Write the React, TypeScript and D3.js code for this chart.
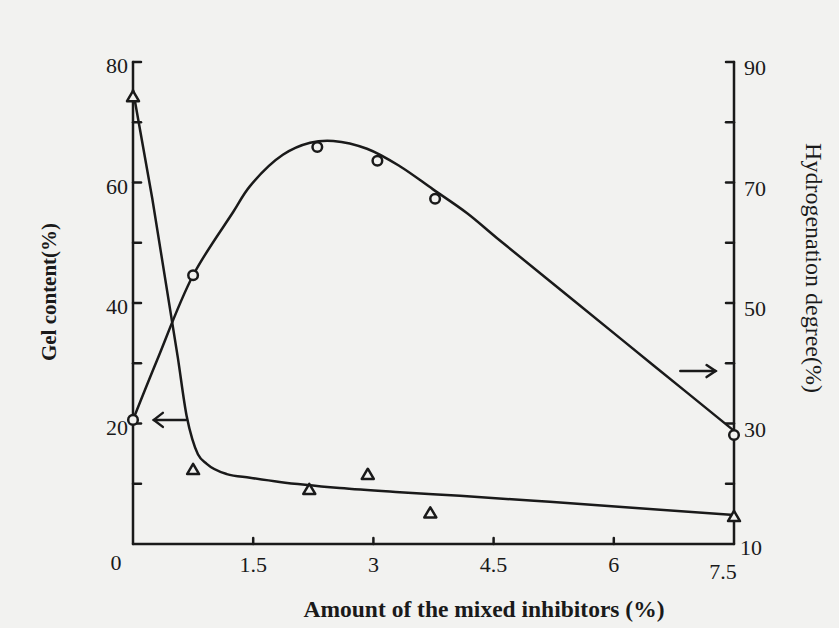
import React from "react";
import * as d3 from "d3";

// Measured points
const gelX = [0, 0.75, 2.2, 2.93, 3.71, 7.5];
const gelY = [74.2, 12.3, 9.0, 11.5, 5.1, 4.5];
const hydX = [0, 0.75, 2.3, 3.05, 3.77, 7.5];
const hydY = [30.6, 54.6, 75.9, 73.6, 67.3, 28.1];

// Hand-drawn fitted curves
const gelFitX = [0.0, 0.24, 0.56, 0.67, 0.74, 0.81, 0.92, 1.17, 1.46, 1.83, 2.58, 3.33, 4.08, 5.2, 7.5];
const gelFitY = [75.3, 57.4, 30.9, 21.2, 17.4, 14.9, 13.3, 11.6, 11.0, 10.3, 9.3, 8.6, 8.0, 7.0, 4.8];
const hydFitX = [0, 0.3, 0.75, 1.25, 1.46, 1.87, 2.21, 2.5, 2.92, 3.33, 3.74, 4.17, 4.54, 5.5, 6.5, 7.49];
const hydFitY = [30.6, 40.5, 54.6, 65.1, 69.4, 74.6, 76.6, 76.9, 75.6, 72.7, 68.9, 64.9, 60.8, 50.4, 39.6, 28.9];

const xTicks = [1.5, 3, 4.5, 6];
const xTickLabels = ["1.5", "3", "4.5", "6"];
const leftMajor = [20, 40, 60, 80];
const leftMinor = [10, 30, 50, 70];
const rightMajor = [30, 50, 70, 90];
const rightMinor = [20, 40, 60, 80];

const xTitle = "Amount of the mixed inhibitors (%)";
const leftTitle = "Gel content(%)";
const rightTitle = "Hydrogenation degree(%)";

export default function App() {
  const W = 839, H = 628;
  const x = d3.scaleLinear().domain([0, 7.5]).range([133, 734]);
  const yL = d3.scaleLinear().domain([0, 80]).range([544, 62]);
  const yR = d3.scaleLinear().domain([10, 90]).range([544, 62]);
  const ink = "#1a1a1a";
  const bg = "#f2f2f0";
  const font = "'Liberation Serif', 'Times New Roman', serif";

  const gelLine = d3.line<number>().x((_, i) => x(gelFitX[i])).y((d) => yL(d)).curve(d3.curveMonotoneX);
  const hydLine = d3.line<number>().x((_, i) => x(hydFitX[i])).y((d) => yR(d)).curve(d3.curveCatmullRom.alpha(0.5));

  const x0 = x(0), x1 = x(7.5), yb = yL(0);

  const tri = (cx: number, cy: number) => {
    const s = 6;
    return `M${cx},${cy - s} L${cx + s},${cy + s * 0.7} L${cx - s},${cy + s * 0.7} Z`;
  };

  const la = { x1: x(0.66), x2: x(0.26), y: yL(20.6) };
  const ra = { x1: x(6.83), x2: x(7.27), y: yR(38.7) };

  return (
    <svg width={W} height={H} style={{ position: "absolute", left: 0, top: 0, display: "block" }}>
      <rect x={0} y={0} width={W} height={H} fill={bg} />
      <g stroke={ink} strokeWidth={2.5} fill="none" strokeLinecap="round">
        <line x1={x0} y1={yL(80)} x2={x0} y2={yb} />
        <line x1={x0} y1={yb} x2={x1} y2={yb} />
        <line x1={x1} y1={yR(90)} x2={x1} y2={yb} />
        {[...leftMajor, ...leftMinor].map((v) => (
          <line key={"l" + v} x1={x0} x2={x0 + 8} y1={yL(v)} y2={yL(v)} />
        ))}
        {[...rightMajor, ...rightMinor].map((v) => (
          <line key={"r" + v} x1={x1} x2={x1 - 8} y1={yR(v)} y2={yR(v)} />
        ))}
        {xTicks.map((v) => (
          <line key={"x" + v} x1={x(v)} x2={x(v)} y1={yb} y2={yb - 6} />
        ))}
        <path d={gelLine(gelFitY) || ""} />
        <path d={hydLine(hydFitY) || ""} />
        <line x1={la.x1} x2={la.x2} y1={la.y} y2={la.y} />
        <path d={`M${la.x2 + 9},${la.y - 7} L${la.x2},${la.y} L${la.x2 + 9},${la.y + 7}`} />
        <line x1={ra.x1} x2={ra.x2} y1={ra.y} y2={ra.y} />
        <path d={`M${ra.x2 - 9},${ra.y - 6} L${ra.x2},${ra.y} L${ra.x2 - 9},${ra.y + 6}`} />
      </g>
      <g stroke={ink} strokeWidth={2.5} fill={bg}>
        {hydX.map((v, i) => (
          <circle key={"c" + i} cx={x(v)} cy={yR(hydY[i])} r={4.8} />
        ))}
        {gelX.map((v, i) => (
          <path key={"t" + i} d={tri(x(v), yL(gelY[i]))} strokeLinejoin="round" />
        ))}
      </g>
      <g fill={ink} fontFamily={font} fontSize={22}>
        {leftMajor.map((v) => (
          <text key={"lt" + v} x={x0 - 5} y={yL(v) + 11} textAnchor="end">{v}</text>
        ))}
        <text x={116} y={yb + 26} textAnchor="middle">0</text>
        {rightMajor.map((v) => (
          <text key={"rt" + v} x={x1 + 10} y={yR(v) + 13} textAnchor="start">{v}</text>
        ))}
        <text x={x1 + 6} y={yb + 11} textAnchor="start">10</text>
        {xTicks.map((v, i) => (
          <text key={"xt" + v} x={x(v)} y={yb + 28} textAnchor="middle">{xTickLabels[i]}</text>
        ))}
        <text x={x1 - 11} y={yb + 35} textAnchor="middle">7.5</text>
      </g>
      <text x={484} y={617} textAnchor="middle" fontFamily={font} fontSize={23.5} fontWeight="bold" fill={ink}>{xTitle}</text>
      <text transform={`translate(56,292) rotate(-90)`} textAnchor="middle" fontFamily={font} fontSize={21} fontWeight="bold" fill={ink}>{leftTitle}</text>
      <text transform={`translate(806,268) rotate(90)`} textAnchor="middle" fontFamily={font} fontSize={24} fill={ink}>{rightTitle}</text>
    </svg>
  );
}
